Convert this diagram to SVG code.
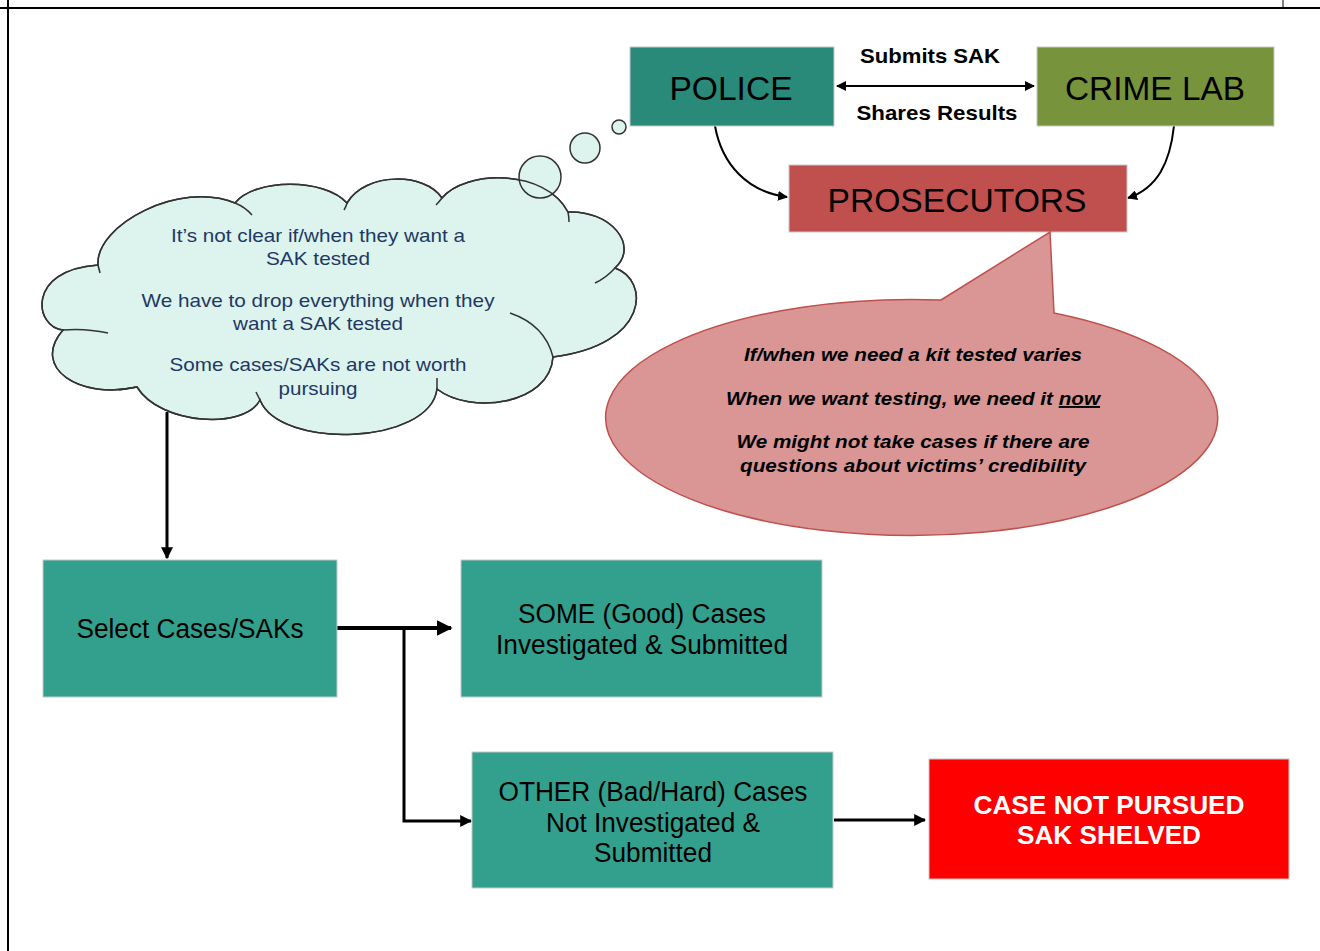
<svg xmlns="http://www.w3.org/2000/svg" width="1320" height="951" viewBox="0 0 1320 951">
  <style>
    .box { stroke: #c8c8c8; stroke-width: 1; }
    .teal { fill: #33a08d; }
    .lbl { font-family: "Liberation Sans", Arial, sans-serif; fill: #000; text-anchor: middle; }
    .big { font-size: 33px; }
    .mid { font-size: 27px; }
    .edge { font-family: "Liberation Sans", Arial, sans-serif; font-weight: bold; font-size: 21px; fill: #000; text-anchor: middle; }
    .think { font-family: "Liberation Sans", Arial, sans-serif; font-size: 19px; fill: #1f3864; text-anchor: middle; }
    .say { font-family: "Liberation Sans", Arial, sans-serif; font-size: 19px; font-weight: bold; font-style: italic; fill: #000; text-anchor: middle; }
    .warn { font-family: "Liberation Sans", Arial, sans-serif; font-size: 26px; font-weight: bold; fill: #fff; text-anchor: middle; }
    .cloud { fill: #ddf3ee; stroke: #333; stroke-width: 1.5; }
    .cloudline { fill: none; stroke: #333; stroke-width: 1.5; }
    .wire { fill: none; stroke: #000; }
  </style>
  <defs>
    <marker id="ah" viewBox="0 0 10 10" refX="9" refY="5" markerWidth="4" markerHeight="4" orient="auto-start-reverse" markerUnits="strokeWidth">
      <path d="M0,0 L10,5 L0,10 z" fill="#000"/>
    </marker>
    <marker id="ahs" viewBox="0 0 10 10" refX="9" refY="5" markerWidth="5" markerHeight="5" orient="auto-start-reverse" markerUnits="strokeWidth">
      <path d="M0,0 L10,5 L0,10 z" fill="#000"/>
    </marker>
    <!-- cloud outline, lobe by lobe, clockwise from the left -->
    <path id="cloudPath" d="M63,330
      C35,328 25,270 98,265
      C95,225 180,180 235,203
      C255,178 325,178 347,203
      C365,172 425,172 442,198
      C465,170 545,168 568,212
      C610,210 640,245 615,268
      C650,280 650,345 553,357
      C550,405 470,415 437,389
      C430,445 280,450 260,400
      C245,430 160,425 137,387
      C80,400 30,368 63,330 Z"/>
  </defs>

  <!-- page frame -->
  <g id="frame" stroke="#000" fill="none">
    <line x1="0" y1="8" x2="1320" y2="8" stroke-width="2"/>
    <line x1="8" y1="0" x2="8" y2="951" stroke-width="2"/>
    <line x1="1283" y1="0" x2="1283" y2="8" stroke-width="1"/>
  </g>

  <!-- connectors -->
  <g id="connectors">
    <line class="wire" x1="837" y1="86" x2="1034" y2="86" stroke-width="2" marker-start="url(#ahs)" marker-end="url(#ahs)"/>
    <path class="wire" d="M715,126 C722,165 748,192 787,197" stroke-width="2" marker-end="url(#ahs)"/>
    <path class="wire" d="M1174,126 C1170,162 1158,188 1128,198" stroke-width="2" marker-end="url(#ahs)"/>
    <line class="wire" x1="167" y1="412" x2="167" y2="558" stroke-width="3" marker-end="url(#ah)"/>
    <line class="wire" x1="337" y1="628" x2="451" y2="628" stroke-width="4" marker-end="url(#ah)"/>
    <polyline class="wire" points="404,628 404,821 471,821" stroke-width="3" marker-end="url(#ah)"/>
    <line class="wire" x1="834" y1="820" x2="925" y2="820" stroke-width="3" marker-end="url(#ah)"/>
  </g>

  <!-- police -->
  <g id="police">
    <rect class="box" x="630" y="47" width="204" height="79" fill="#2a8a79"/>
    <text class="lbl big" x="731" y="100" textLength="123" lengthAdjust="spacingAndGlyphs">POLICE</text>
  </g>

  <!-- crime lab -->
  <g id="crime-lab">
    <rect class="box" x="1037" y="47" width="237" height="79" fill="#77933c"/>
    <text class="lbl big" x="1155" y="100" textLength="180" lengthAdjust="spacingAndGlyphs">CRIME LAB</text>
  </g>

  <!-- police / crime lab exchange labels -->
  <g id="exchange-labels">
    <text class="edge" x="930" y="63" textLength="140" lengthAdjust="spacingAndGlyphs">Submits SAK</text>
    <text class="edge" x="937" y="120" textLength="161" lengthAdjust="spacingAndGlyphs">Shares Results</text>
  </g>

  <!-- prosecutors -->
  <g id="prosecutors">
    <rect class="box" x="789" y="165" width="338" height="67" fill="#c0504d"/>
    <text class="lbl big" x="957" y="212" textLength="259" lengthAdjust="spacingAndGlyphs">PROSECUTORS</text>
  </g>

  <!-- police thought cloud -->
  <g id="police-thoughts">
    <use href="#cloudPath" class="cloud"/>
    <circle cx="540" cy="177" r="21" class="cloud"/>
    <use href="#cloudPath" class="cloudline"/>
    <circle cx="585" cy="148" r="15" class="cloud"/>
    <circle cx="619" cy="127" r="7" class="cloud"/>
    <g class="cloudline">
      <path d="M63,330 Q85,328 108,333"/>
      <path d="M98,265 Q99,269 100,273"/>
      <path d="M235,203 Q245,207 252,215"/>
      <path d="M347,203 Q346,207 344,210"/>
      <path d="M442,198 Q439,202 436,205"/>
      <path d="M568,212 Q569,217 569,222"/>
      <path d="M615,268 Q606,278 595,283"/>
      <path d="M553,357 Q545,325 510,313"/>
      <path d="M437,389 Q437,384 437,378"/>
      <path d="M260,400 Q258,396 256,392"/>
      <path d="M137,387 Q128,388 119,390"/>
    </g>
    <text class="think" x="318" y="242" textLength="294" lengthAdjust="spacingAndGlyphs">It’s not clear if/when they want a</text>
    <text class="think" x="318" y="265" textLength="104" lengthAdjust="spacingAndGlyphs">SAK tested</text>
    <text class="think" x="318" y="307" textLength="353" lengthAdjust="spacingAndGlyphs">We have to drop everything when they</text>
    <text class="think" x="318" y="330" textLength="170" lengthAdjust="spacingAndGlyphs">want a SAK tested</text>
    <text class="think" x="318" y="371" textLength="297" lengthAdjust="spacingAndGlyphs">Some cases/SAKs are not worth</text>
    <text class="think" x="318" y="395" textLength="79" lengthAdjust="spacingAndGlyphs">pursuing</text>
  </g>

  <!-- prosecutors speech bubble -->
  <g id="prosecutor-speech">
    <path d="M941,300 L1050,232 L1054,313 A306,118 0 1 1 941,300 Z" fill="#d99694" stroke="#c0504d" stroke-width="1.5"/>
    <text class="say" x="913" y="361" textLength="338" lengthAdjust="spacingAndGlyphs">If/when we need a kit tested varies</text>
    <text class="say" x="913" y="405" textLength="374" lengthAdjust="spacingAndGlyphs">When we want testing, we need it <tspan text-decoration="underline">now</tspan></text>
    <text class="say" x="913" y="448" textLength="353" lengthAdjust="spacingAndGlyphs">We might not take cases if there are</text>
    <text class="say" x="913" y="472" textLength="346" lengthAdjust="spacingAndGlyphs">questions about victims’ credibility</text>
  </g>

  <!-- select cases -->
  <g id="select-cases">
    <rect class="box teal" x="43" y="560" width="294" height="137"/>
    <text class="lbl mid" x="190" y="638" textLength="227" lengthAdjust="spacingAndGlyphs">Select Cases/SAKs</text>
  </g>

  <!-- good cases -->
  <g id="good-cases">
    <rect class="box teal" x="461" y="560" width="361" height="137"/>
    <text class="lbl mid" x="642" y="623" textLength="248" lengthAdjust="spacingAndGlyphs">SOME (Good) Cases</text>
    <text class="lbl mid" x="642" y="654" textLength="292" lengthAdjust="spacingAndGlyphs">Investigated &amp; Submitted</text>
  </g>

  <!-- bad / hard cases -->
  <g id="other-cases">
    <rect class="box teal" x="472" y="752" width="361" height="136"/>
    <text class="lbl mid" x="653" y="801" textLength="309" lengthAdjust="spacingAndGlyphs">OTHER (Bad/Hard) Cases</text>
    <text class="lbl mid" x="653" y="832" textLength="214" lengthAdjust="spacingAndGlyphs">Not Investigated &amp;</text>
    <text class="lbl mid" x="653" y="862" textLength="118" lengthAdjust="spacingAndGlyphs">Submitted</text>
  </g>

  <!-- shelved outcome -->
  <g id="not-pursued">
    <rect class="box" x="929" y="759" width="360" height="120" fill="#ff0000"/>
    <text class="warn" x="1109" y="814" textLength="271" lengthAdjust="spacingAndGlyphs">CASE NOT PURSUED</text>
    <text class="warn" x="1109" y="844" textLength="184" lengthAdjust="spacingAndGlyphs">SAK SHELVED</text>
  </g>
</svg>
